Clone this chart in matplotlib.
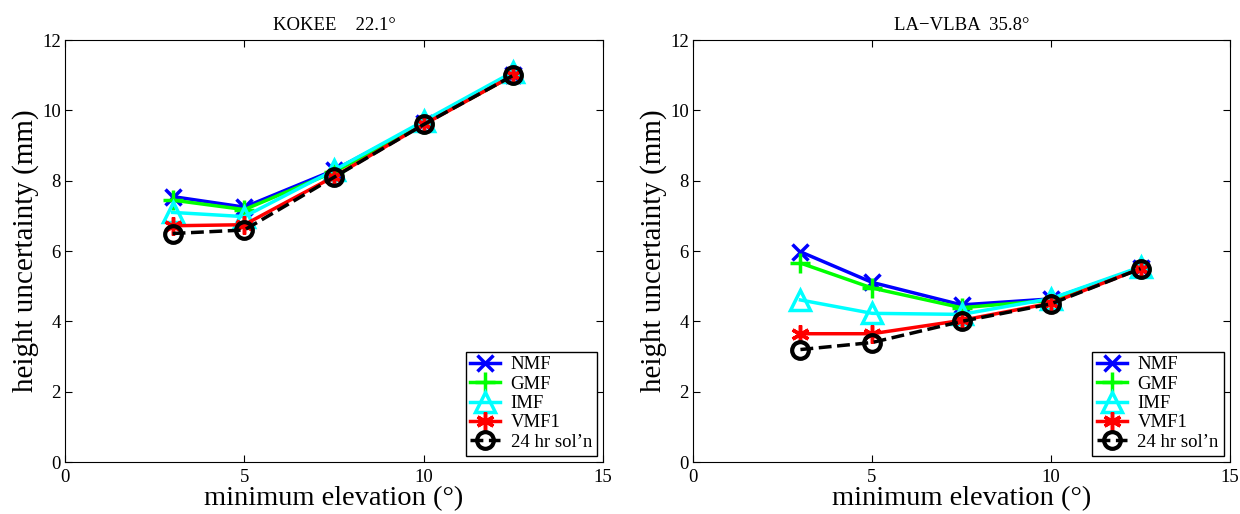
import matplotlib
matplotlib.use("Agg")
import matplotlib.pyplot as plt

plt.rcParams["font.family"] = ["Liberation Serif", "DejaVu Serif"]

# minimum elevation cut-off (deg)
elev = [3, 5, 7.5, 10, 12.5]

# KOKEE 22.1 deg
kokee_nmf = [7.55, 7.25, 8.3, 9.65, 11.0]
kokee_gmf = [7.45, 7.18, 8.25, 9.62, 11.0]
kokee_imf = [7.1, 6.98, 8.3, 9.7, 11.1]
kokee_vmf1 = [6.72, 6.75, 8.12, 9.6, 11.0]
kokee_24h = [6.5, 6.6, 8.1, 9.6, 11.0]

# LA-VLBA 35.8 deg
la_nmf = [5.98, 5.11, 4.47, 4.64, 5.52]
la_gmf = [5.66, 4.95, 4.39, 4.6, 5.5]
la_imf = [4.61, 4.23, 4.2, 4.65, 5.55]
la_vmf1 = [3.65, 3.65, 4.03, 4.52, 5.5]
la_24h = [3.2, 3.4, 4.0, 4.5, 5.5]

labels = ["NMF", "GMF", "IMF", "VMF1", "24 hr sol\u2019n"]
titles = ["KOKEE    22.1\u00b0", "LA\u2212VLBA  35.8\u00b0"]

styles = [
    dict(color="#0000ff", marker="x", ls="-", ms=11, mew=2.5),
    dict(color="#00ff00", marker="+", ls="-", ms=14, mew=2.5),
    dict(color="#00ffff", marker="^", ls="-", ms=14, mew=2.5, mfc="none"),
    dict(color="#ff0000", marker=(6, 2, 0), ls="-", ms=13, mew=2.5),
    dict(color="black", marker="o", ls="--", ms=12, mew=3, mfc="none"),
]

fig = plt.figure(figsize=(12.4, 5.14), dpi=100)
ax1 = fig.add_axes([0.0524, 0.101, 0.434, 0.821])
ax2 = fig.add_axes([0.5589, 0.101, 0.4331, 0.821])

panels = [
    (ax1, [kokee_nmf, kokee_gmf, kokee_imf, kokee_vmf1, kokee_24h]),
    (ax2, [la_nmf, la_gmf, la_imf, la_vmf1, la_24h]),
]

for i, (ax, series) in enumerate(panels):
    for vals, lab, st in zip(series, labels, styles):
        ax.plot(elev, vals, lw=2.5, label=lab, **st)
    ax.set_xlim(0, 15)
    ax.set_ylim(0, 12)
    ax.set_xticks([0, 5, 10, 15])
    ax.set_yticks(range(0, 13, 2))
    ax.tick_params(direction="in", top=True, right=True, labelsize=13.5, length=5)
    ax.tick_params(axis="x", pad=5)
    ax.tick_params(axis="y", pad=3)
    ax.set_title(titles[i], fontsize=13.5, pad=7)
    ax.set_xlabel("minimum elevation (\u00b0)", fontsize=20.5, labelpad=0)
    ax.set_ylabel("height uncertainty (mm)", fontsize=21, labelpad=2)
    leg = ax.legend(loc="lower right", fontsize=13.5, handlelength=1.6,
                    fancybox=False, framealpha=1, edgecolor="black",
                    borderpad=0.25, labelspacing=0.12, handletextpad=0.55,
                    borderaxespad=0.35)
    leg.get_frame().set_linewidth(1.0)

fig.savefig("out.png", dpi=100)
